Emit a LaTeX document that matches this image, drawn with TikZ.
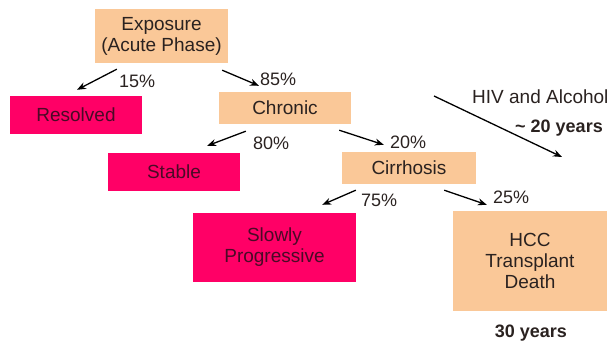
\documentclass[tikz,border=0pt]{standalone}
\usepackage{fontspec}
\setmainfont{Liberation Sans}
\usetikzlibrary{arrows.meta}
\definecolor{peach}{HTML}{FAC898}
\definecolor{hotpink}{HTML}{FF0066}
\definecolor{darkink}{HTML}{2A2220}
\definecolor{wineink}{HTML}{4A0A26}

\begin{document}
\begin{tikzpicture}[
    x=1pt, y=-1pt,
    font=\fontsize{19}{21}\selectfont,
    stagebox/.style={fill=peach, text=darkink, align=center, inner sep=0pt},
    outcomebox/.style={fill=hotpink, text=wineink, align=center, inner sep=0pt},
    arr/.style={-{Stealth[length=9pt,width=7pt]}, line width=1.3pt},
    pct/.style={anchor=west, inner sep=0pt, text=darkink, font=\fontsize{18}{20}\selectfont},
    yearlabel/.style={inner sep=0pt, text=darkink, font=\fontsize{18}{20}\selectfont\bfseries}
]
\useasboundingbox (0,0) rectangle (608,344);

% Stages
\node[stagebox, minimum width=133pt, minimum height=54pt] (expo) at (161.5,36) {Exposure\\(Acute Phase)};
\node[stagebox, minimum width=132pt, minimum height=32pt] (chronic) at (285,108) {Chronic};
\node[stagebox, minimum width=134pt, minimum height=32pt] (cirr) at (409,168) {Cirrhosis};
\node[stagebox, minimum width=154pt, minimum height=100pt] (hcc) at (530,261) {HCC\\Transplant\\Death};

% Outcomes
\node[outcomebox, minimum width=132pt, minimum height=38pt] (resolved) at (76,115) {Resolved};
\node[outcomebox, minimum width=132pt, minimum height=38pt] (stable) at (174,172) {Stable};
\node[outcomebox, minimum width=163pt, minimum height=69pt] (slowly) at (274.5,247.5) {Slowly\\Progressive};

% Branches
\draw[arr] ([xshift=22pt,yshift=-6pt]expo.south west) -- ([xshift=1pt,yshift=6pt]resolved.north);
\draw[arr] ([xshift=-6pt,yshift=-7pt]expo.south east) -- ([xshift=-26pt,yshift=6pt]chronic.north);
\draw[arr] ([xshift=27pt,yshift=-7pt]chronic.south west) -- ([xshift=-33pt,yshift=7pt]stable.north east);
\draw[arr] ([xshift=-12pt,yshift=-6pt]chronic.south east) -- ([xshift=42pt,yshift=7pt]cirr.north west);
\draw[arr] ([xshift=14pt,yshift=-6pt]cirr.south west) -- ([xshift=-34pt,yshift=8pt]slowly.north east);
\draw[arr] ([xshift=-32pt,yshift=-6pt]cirr.south east) -- ([xshift=34pt,yshift=6pt]hcc.north west);

% Percentages
\node[pct] (p15) at (119,81) {15\%};
\node[pct] (p85) at (260,79) {85\%};
\node[pct] (p80) at (253,143) {80\%};
\node[pct] (p20) at (390,142) {20\%};
\node[pct] (p75) at (361,200) {75\%};
\node[pct] (p25) at (493,197) {25\%};

% Time line
\coordinate (hivs) at (434,96);
\coordinate (hive) at (562,157);
\draw[arr] (hivs) -- (hive);
\node[anchor=west, inner sep=0pt, text=darkink] (hiv) at (472,97) {HIV and Alcohol};
\node[yearlabel] (twenty) at (559,128) {\textasciitilde{} 20 years};
\node[yearlabel] (thirty) at (531,333) {30 years};
\end{tikzpicture}
\end{document}
